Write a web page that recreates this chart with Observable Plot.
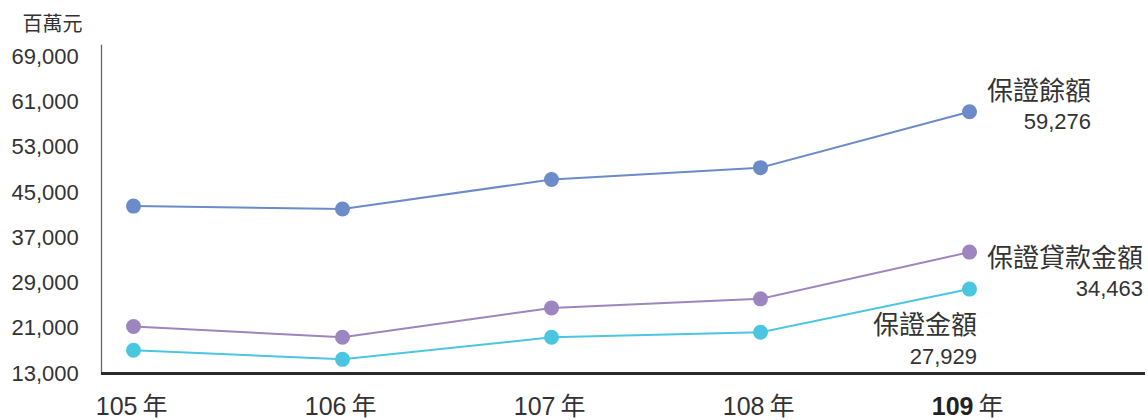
<!DOCTYPE html>
<html>
<head>
<meta charset="utf-8">
<script src="https://cdn.jsdelivr.net/npm/d3@7"></script>
<script src="https://cdn.jsdelivr.net/npm/@observablehq/plot@0.6"></script>
<style>
  html, body { margin: 0; padding: 0; background: #fff; }
  #chart svg { display: block; }
</style>
</head>
<body>
<div id="chart"></div>
<script>
const years = [105, 106, 107, 108, 109];
const seriesNames = ["保證餘額", "保證貸款金額", "保證金額"];
const balanceValues = [42600, 42100, 47300, 49400, 59276];
const loanValues = [21300, 19400, 24600, 26200, 34463];
const guaranteeValues = [17100, 15500, 19400, 20300, 27929];
const seriesColors = ["#6b8bc9", "#9d86c0", "#4ac6e0"];
const yTicks = [13000, 21000, 29000, 37000, 45000, 53000, 61000, 69000];
const unitLabel = "百萬元";
const yearSuffix = "年";

const allValues = [balanceValues, loanValues, guaranteeValues];
const data = [];
seriesNames.forEach((name, i) => {
  years.forEach((yr, j) => data.push({series: name, year: yr, value: allValues[i][j]}));
});
const lastPoints = seriesNames.map((name, i) => ({series: name, year: years[years.length - 1], value: allValues[i][years.length - 1]}));

// label offsets (style) per series: [dx, nameDy, valueDy]
const labelOffsets = [[121.5, -20, 10], [173.5, 6.5, 37], [7.5, 36.5, 67.5]];

const font = "'Liberation Sans', 'Noto Sans CJK TC', sans-serif";
const textColor = "#333";

const labelMarks = [];
seriesNames.forEach((name, i) => {
  const pt = [lastPoints[i]];
  const [dx, ndy, vdy] = labelOffsets[i];
  labelMarks.push(Plot.text(pt, {x: "year", y: "value", text: "series", textAnchor: "end", dx, dy: ndy, fontSize: 26, fill: textColor, fontFamily: font}));
  labelMarks.push(Plot.text(pt, {x: "year", y: "value", text: d => d3.format(",")(d.value), textAnchor: "end", dx, dy: vdy, fontSize: 22, fill: textColor, fontFamily: font}));
});

const chart = Plot.plot({
  width: 1148,
  height: 420,
  marginLeft: 101,
  marginRight: 3,
  marginTop: 45,
  marginBottom: 47,
  style: {fontFamily: font, background: "#fff"},
  x: {type: "point", domain: years, range: [131.5, 969.5], padding: 0, axis: null},
  y: {domain: [13000, 71000], axis: null},
  color: {domain: seriesNames, range: seriesColors},
  marks: [
    Plot.frame({anchor: "left", stroke: "#666", strokeWidth: 1.3}),
    Plot.axisY(yTicks, {tickSize: 0, tickPadding: 90, textAnchor: "start", tickFormat: d3.format(","), fontSize: 22, fill: textColor, label: null}),
    Plot.ruleY([13000], {stroke: "#2a2a2a", strokeWidth: 3}),
    Plot.line(data, {x: "year", y: "value", z: "series", stroke: "series", strokeWidth: 2}),
    Plot.dot(data, {x: "year", y: "value", fill: "series", r: 7.5}),
    ...labelMarks,
    Plot.text(years.filter(y => y !== 109), {x: d => d, text: d => String(d), frameAnchor: "bottom", lineAnchor: "middle", textAnchor: "end", dx: 4, dy: 33, fontSize: 25, fill: textColor}),
    Plot.text(years.filter(y => y === 109), {x: d => d, text: d => String(d), frameAnchor: "bottom", lineAnchor: "middle", textAnchor: "end", dx: 4, dy: 33, fontSize: 25, fontWeight: "bold", fill: "#222"}),
    Plot.text(years, {x: d => d, text: () => yearSuffix, frameAnchor: "bottom", lineAnchor: "middle", textAnchor: "start", dx: 9, dy: 33, fontSize: 25, fill: textColor}),
    Plot.text([unitLabel], {text: d => d, frameAnchor: "top-left", lineAnchor: "middle", textAnchor: "end", dx: -19, dy: -21, fontSize: 20, fill: textColor})
  ]
});
document.getElementById("chart").appendChild(chart);
</script>
</body>
</html>
